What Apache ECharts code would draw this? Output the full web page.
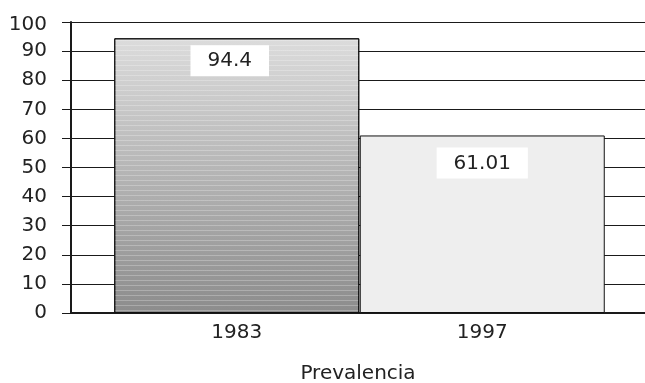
<!DOCTYPE html>
<html>
<head>
<meta charset="utf-8">
<script src="https://cdn.jsdelivr.net/npm/echarts@6/dist/echarts.min.js"></script>
<style>
  html, body { margin: 0; padding: 0; background: #fff; }
  #chart { width: 645px; height: 383px; }
</style>
</head>
<body>
<div id="chart"></div>
<script>
// Prevalence by survey year
const categories = ['1983', '1997'];
const values = [94.4, 61.01];
const axisTitle = 'Prevalencia';
const yMin = 0;
const yMax = 100;
const yStep = 10;

const FONT = 'DejaVu Sans';
const FONT_SIZE = 20;
const TEXT = '#222';

// Fill for each bar: shaded metallic look for the first, flat light grey for the second
const barFills = [
  {
    type: 'linear', x: 0, y: 0, x2: 0, y2: 1,
    colorStops: [
      { offset: 0, color: '#dcdcdc' },
      { offset: 1, color: '#8c8c8c' }
    ]
  },
  '#eeeeee'
];
const barDecals = [
  {
    symbol: 'rect',
    symbolSize: 1,
    color: 'rgba(255,255,255,0.25)',
    dashArrayX: [[1, 0]],
    dashArrayY: [1, 4],
    rotation: 0
  },
  null
];
const labelDistances = [7, 12];
const labelOffsets = [[-7, 0], [0, 0]];

const chart = echarts.init(document.getElementById('chart'), null, { renderer: 'canvas' });

const seriesData = values.map((v, i) => {
  const item = {
    value: v,
    itemStyle: { color: barFills[i], borderColor: '#111', borderWidth: 1 },
    label: { distance: labelDistances[i], offset: labelOffsets[i] }
  };
  if (barDecals[i]) item.itemStyle.decal = barDecals[i];
  return item;
});

chart.setOption({
  animation: false,
  backgroundColor: '#fff',
  grid: [
    // bars
    { left: 114, right: 40, top: 22, bottom: 70, containLabel: false, outerBoundsMode: 'none' },
    // frame: value axis, gridlines and base line
    { left: 71, right: 0, top: 22, bottom: 70, containLabel: false, outerBoundsMode: 'none' }
  ],
  xAxis: [
    {
      type: 'category',
      gridIndex: 0,
      data: categories,
      axisLine: { show: false },
      axisTick: { show: false },
      axisLabel: { margin: 10, fontFamily: FONT, fontSize: FONT_SIZE, color: TEXT }
    },
    {
      type: 'value',
      gridIndex: 1,
      min: 0,
      max: 1,
      axisLine: { show: true, lineStyle: { color: '#1a1a1a', width: 2 } },
      axisTick: { show: false },
      axisLabel: { show: false },
      splitLine: { show: false },
      name: axisTitle,
      nameLocation: 'middle',
      nameGap: 51,
      nameTextStyle: { fontFamily: FONT, fontSize: FONT_SIZE, color: TEXT }
    }
  ],
  yAxis: [
    {
      type: 'value',
      gridIndex: 0,
      min: yMin, max: yMax, interval: yStep,
      show: false,
      splitLine: { show: false }
    },
    {
      type: 'value',
      gridIndex: 1,
      min: yMin, max: yMax, interval: yStep,
      axisLine: { show: true, lineStyle: { color: '#1a1a1a', width: 2 } },
      axisTick: { show: true, length: 9, lineStyle: { color: '#1a1a1a', width: 1 } },
      axisLabel: {
        margin: 24, fontFamily: FONT, fontSize: FONT_SIZE, color: TEXT,
        // the top label sits a little lower so it stays clear of the edge
        formatter: v => (v === yMax ? '{top|' + v + '}' : String(v)),
        rich: { top: { fontFamily: FONT, fontSize: FONT_SIZE, color: TEXT, padding: [6, 0, 0, 0] } }
      },
      splitLine: { show: true, lineStyle: { color: '#1a1a1a', width: 1 } }
    }
  ],
  series: [
    {
      type: 'bar',
      xAxisIndex: 0,
      yAxisIndex: 0,
      barCategoryGap: '0%',
      barWidth: 245,
      data: seriesData,
      label: {
        show: true,
        position: 'insideTop',
        fontFamily: FONT,
        fontSize: FONT_SIZE,
        color: TEXT,
        backgroundColor: '#fff',
        padding: [6, 17, 5, 17],
        formatter: p => String(values[p.dataIndex])
      },
      z: 3
    }
  ]
});
</script>
</body>
</html>
